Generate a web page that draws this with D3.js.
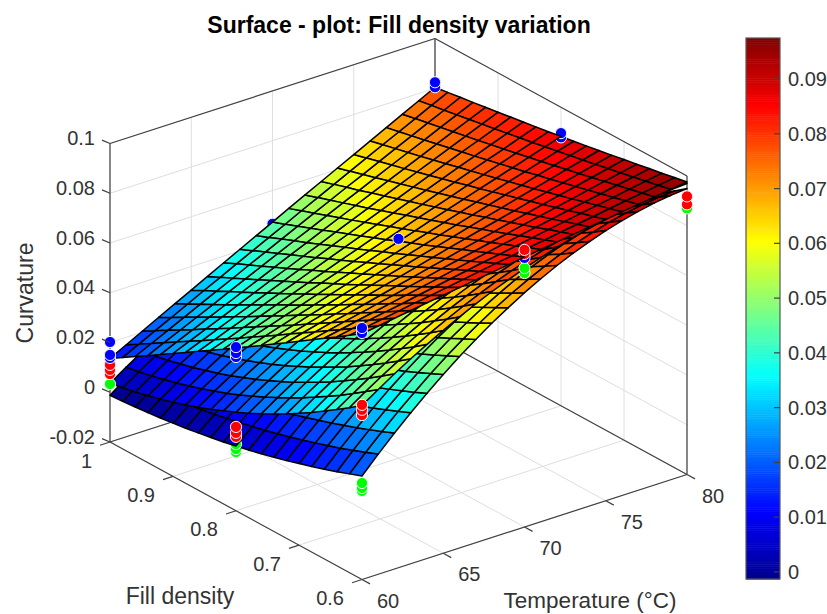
<!DOCTYPE html>
<html>
<head>
<meta charset="utf-8">
<script src="https://cdn.jsdelivr.net/npm/d3@7"></script>
<style>
body { margin: 0; background: #fff; }
text { font-family: "Liberation Sans", Arial, sans-serif; fill: #333; }
</style>
</head>
<body>
<svg id="chart" width="827" height="614"></svg>
<script>
const titleText = 'Surface - plot: Fill density variation';
const tempTicks = [60, 65, 70, 75, 80];
const fillTicks = [1, 0.9, 0.8, 0.7, 0.6];
const curvTicks = [-0.02, 0, 0.02, 0.04, 0.06, 0.08, 0.1];
const barTicks = [0, 0.01, 0.02, 0.03, 0.04, 0.05, 0.06, 0.07, 0.08, 0.09];

// surface rows run along fill density, columns along temperature. values are curvature * 10000
const tempGrid = [60, 61, 62, 63, 64, 65, 66, 67, 68, 69, 70, 71, 72, 73, 74, 75, 76, 77, 78, 79, 80];
const fillGrid = [1, 0.98, 0.96, 0.94, 0.92, 0.9, 0.88, 0.86, 0.84, 0.82, 0.8, 0.78, 0.76, 0.74, 0.72, 0.7, 0.68, 0.66, 0.64, 0.62, 0.6];

const topSurface = [
  [136,170,204,238,272,305,339,373,406,440,473,507,540,573,606,639,672,705,738,771,804],
  [167,200,233,265,298,331,363,396,428,460,492,525,557,589,621,653,685,716,748,780,811],
  [199,230,262,293,325,356,387,419,450,481,512,543,574,605,635,666,697,727,758,788,819],
  [230,261,291,321,351,382,412,442,472,502,531,561,591,620,650,680,709,738,768,797,826],
  [262,291,320,349,378,407,436,465,494,522,551,580,608,637,665,693,721,750,778,806,834],
  [294,322,350,377,405,433,461,488,516,543,571,598,625,653,680,707,734,761,788,815,842],
  [326,352,379,406,432,459,485,512,538,565,591,617,643,669,695,721,747,773,798,824,850],
  [358,383,409,434,460,485,510,536,561,586,611,636,661,686,710,735,760,784,809,833,858],
  [390,414,439,463,487,511,535,559,583,607,631,655,679,702,726,749,773,796,819,843,866],
  [422,445,469,492,515,538,561,583,606,629,651,674,697,719,741,764,786,808,830,852,874],
  [455,477,499,521,542,564,586,608,629,651,672,693,715,736,757,778,799,820,841,862,883],
  [487,508,529,550,570,591,611,632,652,672,693,713,733,753,773,793,813,832,852,872,891],
  [520,540,559,579,598,618,637,656,675,694,713,732,751,770,789,808,826,845,863,882,900],
  [553,572,590,608,626,645,663,681,699,717,734,752,770,788,805,823,840,857,875,892,909],
  [586,604,621,638,655,672,689,705,722,739,756,772,789,805,821,838,854,870,886,902,918],
  [620,636,652,667,683,699,715,730,746,761,777,792,807,823,838,853,868,883,898,913,928],
  [653,668,683,697,712,726,741,755,770,784,798,812,826,841,854,868,882,896,910,923,937],
  [687,700,714,727,741,754,767,780,794,807,820,833,846,858,871,884,897,909,922,934,947],
  [720,733,745,757,769,782,794,806,818,830,841,853,865,877,888,900,911,922,934,945,956],
  [754,765,776,787,799,809,820,831,842,853,863,874,884,895,905,915,926,936,946,956,966],
  [788,798,808,818,828,837,847,857,866,876,885,895,904,913,922,931,940,949,958,967,976]
];
const midSurface = [
  [36,80,122,162,199,235,268,300,329,356,381,404,425,444,460,475,487,498,506,512,516],
  [46,89,131,171,209,244,278,309,338,365,390,413,434,453,469,484,496,507,515,521,525],
  [56,100,142,182,219,255,288,320,349,376,401,424,445,463,480,494,507,517,525,531,535],
  [69,113,155,194,232,267,301,332,361,388,413,436,457,475,492,507,519,529,537,543,547],
  [83,127,168,208,246,281,314,346,375,402,427,450,470,489,506,520,532,543,551,557,561],
  [98,142,184,223,261,296,329,361,390,417,442,465,485,504,520,535,547,557,566,572,576],
  [115,159,200,240,277,313,346,377,406,433,458,481,502,520,537,551,564,574,582,588,592],
  [133,177,218,258,295,331,364,395,424,451,476,499,520,538,555,569,581,591,600,606,609],
  [152,196,238,277,315,350,383,415,444,471,495,518,539,557,574,588,600,611,619,625,628],
  [174,217,259,298,336,371,404,436,465,491,516,539,560,578,595,609,621,631,639,645,649],
  [196,240,281,321,358,394,427,458,487,514,539,561,582,600,617,631,643,653,661,667,671],
  [220,264,305,345,382,417,450,482,511,537,562,585,605,624,640,655,667,677,685,691,694],
  [245,289,330,370,407,443,476,507,536,563,587,610,630,649,665,680,692,702,710,716,719],
  [272,316,357,397,434,469,502,533,562,589,614,636,657,675,692,706,718,728,736,742,746],
  [300,344,385,425,462,497,530,561,590,617,642,664,685,703,720,734,746,756,764,770,773],
  [330,374,415,454,492,527,560,591,620,647,671,694,714,733,749,763,775,785,793,799,803],
  [361,405,446,485,523,558,591,622,651,677,702,725,745,763,780,794,806,816,824,829,833],
  [394,437,479,518,555,590,623,654,683,710,734,757,777,796,812,826,838,848,856,862,865],
  [428,471,513,552,589,624,657,688,717,744,768,791,811,829,846,860,872,882,889,895,899],
  [463,507,548,587,624,659,692,723,752,779,803,826,846,864,881,895,907,917,924,930,934],
  [500,543,585,624,661,696,729,760,789,815,840,862,883,901,917,931,943,953,961,966,970]
];
const lowSurface = [
  [-12,36,82,124,163,198,231,260,286,309,329,346,359,370,377,381,382,379,374,365,353],
  [-9,41,87,130,170,206,240,270,297,321,342,359,374,385,393,398,400,398,394,386,375],
  [-4,46,93,137,178,215,250,281,309,334,355,374,389,401,410,416,419,418,415,408,398],
  [1,52,100,145,186,225,260,292,321,347,370,389,405,418,428,435,439,439,436,430,421],
  [7,59,108,153,196,235,272,305,335,361,385,405,422,436,447,455,459,461,459,454,446],
  [14,67,116,163,207,247,284,318,349,376,401,422,440,455,467,476,481,483,482,478,471],
  [21,75,126,173,218,259,297,332,364,392,418,440,459,475,487,497,503,506,506,503,497],
  [30,84,136,185,230,272,311,347,380,409,435,459,478,495,509,519,527,531,531,529,524],
  [39,95,147,197,243,286,326,363,396,427,454,478,499,517,531,542,551,556,557,556,551],
  [49,106,159,210,257,301,342,379,414,445,473,498,520,539,554,566,575,581,584,584,580],
  [60,118,172,223,272,316,358,397,432,464,494,519,542,562,578,591,601,608,612,612,610],
  [72,130,186,238,287,333,376,415,451,485,515,541,565,585,603,617,628,636,640,642,640],
  [84,144,200,253,303,350,394,434,471,506,536,564,589,610,628,643,655,664,669,672,671],
  [98,158,216,270,321,368,413,454,492,527,559,588,613,636,655,671,683,693,700,703,703],
  [112,174,232,287,339,387,433,475,514,550,583,612,639,662,682,699,713,723,730,735,736],
  [128,190,249,305,357,407,453,497,537,573,607,638,665,689,710,728,743,754,762,767,769],
  [144,207,267,324,377,428,475,519,560,598,632,664,692,717,739,758,773,786,795,801,804],
  [160,224,285,343,398,449,497,542,584,623,658,691,720,746,769,788,805,818,828,835,839],
  [178,243,305,364,419,471,521,567,609,649,685,719,749,776,799,820,837,852,863,870,875],
  [197,263,325,385,441,495,545,592,635,676,713,747,778,806,831,852,871,886,898,907,912],
  [216,283,347,407,464,519,570,617,662,703,742,777,809,838,863,886,905,921,934,943,950]
];

// measured points as [temperature, fill density, curvature]
const bluePoints = [
  [60,1,0.0202],[60,1,0.015],[60,1,0.0138],
  [60,0.8,0.0458],[60,0.8,0.0434],[60,0.8,0.0418],
  [60,0.6,0.0811],[60,0.6,0.0791],
  [70,1,0.0466],[70,0.8,0.0682],[70,0.6,0.0882],
  [80,1,0.0824],[80,1,0.0804],[80,0.8,0.0896],[80,0.8,0.0879]
];
const redPoints = [
  [60,1,0.011],[60,1,0.009],[60,1,0.0073],
  [60,0.8,0.0137],[60,0.8,0.0113],[60,0.8,0.0097],
  [60,0.6,0.0502],[60,0.6,0.0482],[60,0.6,0.0461],
  [70,0.6,0.0914],[70,0.6,0.0898],
  [80,0.6,0.0918],[80,0.6,0.0886]
];
const greenPoints = [
  [60,1,0.0033],
  [60,0.8,0.0068],[60,0.8,0.0048],[60,0.8,0.0036],
  [60,0.6,0.0188],[60,0.6,0.0168],[60,0.6,0.0156],
  [70,0.6,0.0841],[70,0.6,0.0821],
  [80,0.6,0.087]
];

const jetStops = [0, 0.125, 0.375, 0.625, 0.875, 1];
const jetColors = ['#00008f', '#0000ff', '#00ffff', '#ffff00', '#ff0000', '#800000'];
const colorLimits = [-0.0013, 0.0975];
const numLevels = 256;

const svg = d3.select('#chart');
const axisColor = '#404040';
const gridColor = '#dedede';

// box corners on the page: left corner plus one vector per data axis
const origin = [110, 442];
const tempVec = [325, -105];
const fillVec = [252, 137.5];
const curvVec = [0, -298.5];

const tempScale = d3.scaleLinear().domain([60, 80]).range([0, 1]);
const fillScale = d3.scaleLinear().domain([1, 0.6]).range([0, 1]);
const curvScale = d3.scaleLinear().domain([-0.02, 0.1]).range([0, 1]);
const jet = d3.scaleLinear().domain(jetStops).range(jetColors).interpolate(d3.interpolateRgb);

function project(t, f, c) {
    const u = tempScale(t);
    const v = fillScale(f);
    const w = curvScale(c);
    return [
        origin[0] + u * tempVec[0] + v * fillVec[0] + w * curvVec[0],
        origin[1] + u * tempVec[1] + v * fillVec[1] + w * curvVec[1],
    ];
}
function levelColor(c) {
    const s = (c - colorLimits[0]) / (colorLimits[1] - colorLimits[0]);
    const level = Math.min(numLevels - 1, Math.max(0, Math.floor(s * numLevels)));
    return jet((level + 0.5) / numLevels);
}
// painter order: further from the viewer is a bigger number. height above a tilted plane
function depth(t, f, c) {
    return 136 + 650 * tempScale(t) + 600 * fillScale(f) - c * 10000;
}
function drawLine(layer, a, b, color, width) {
    const p = project(...a);
    const q = project(...b);
    layer.append('line')
        .attr('x1', p[0]).attr('y1', p[1])
        .attr('x2', q[0]).attr('y2', q[1])
        .attr('stroke', color)
        .attr('stroke-width', width);
}
function tickText(v) {
    return d3.format('~g')(v).replace('\u2212', '-');
}

const walls = svg.append('g');
const [zMin, zMax] = curvScale.domain();

// grid on floor and both back walls
tempTicks.forEach(t => {
    drawLine(walls, [t, 1, zMin], [t, 0.6, zMin], gridColor, 1);
    drawLine(walls, [t, 1, zMin], [t, 1, zMax], gridColor, 1);
});
fillTicks.forEach(f => {
    drawLine(walls, [60, f, zMin], [80, f, zMin], gridColor, 1);
    drawLine(walls, [80, f, zMin], [80, f, zMax], gridColor, 1);
});
curvTicks.forEach(c => {
    drawLine(walls, [60, 1, c], [80, 1, c], gridColor, 1);
    drawLine(walls, [80, 1, c], [80, 0.6, c], gridColor, 1);
});

// box edges
[
    [[60, 1, zMin], [60, 0.6, zMin]],
    [[60, 0.6, zMin], [80, 0.6, zMin]],
    [[60, 1, zMin], [80, 1, zMin]],
    [[80, 1, zMin], [80, 0.6, zMin]],
    [[60, 1, zMax], [80, 1, zMax]],
    [[80, 1, zMax], [80, 0.6, zMax]],
    [[60, 1, zMin], [60, 1, zMax]],
    [[80, 1, zMin], [80, 1, zMax]],
    [[80, 0.6, zMin], [80, 0.6, zMax]],
].forEach(e => drawLine(walls, e[0], e[1], axisColor, 1.2));

// surfaces and points go in one list so the points can sit behind or in front of a cell
const items = [];
[topSurface, midSurface, lowSurface].forEach(surface => {
    for (let j = 0; j < fillGrid.length - 1; j++) {
        for (let i = 0; i < tempGrid.length - 1; i++) {
            const corners = [[i, j], [i + 1, j], [i + 1, j + 1], [i, j + 1]]
                .map(([a, b]) => [tempGrid[a], fillGrid[b], surface[b][a] / 10000]);
            items.push({
                corners,
                fill: levelColor(corners[0][2]),
                depth: d3.mean(corners, d => depth(...d)),
            });
        }
    }
});
[[bluePoints, '#0000ff'], [redPoints, '#ff0000'], [greenPoints, '#00ff00']].forEach(([points, color]) => {
    points.forEach(d => items.push({ point: d, fill: color, depth: depth(...d) }));
});
items.sort((a, b) => b.depth - a.depth);

const polyLine = d3.line().curve(d3.curveLinearClosed);
const plot = svg.append('g');
items.forEach(d => {
    if (d.point) {
        const p = project(...d.point);
        plot.append('circle')
            .attr('cx', p[0]).attr('cy', p[1]).attr('r', 5.6)
            .attr('fill', d.fill)
            .attr('stroke', '#f4f4ff')
            .attr('stroke-width', 1);
    } else {
        plot.append('path')
            .attr('d', polyLine(d.corners.map(c => project(...c))))
            .attr('fill', d.fill)
            .attr('stroke', '#000')
            .attr('stroke-width', 1.5)
            .attr('stroke-linejoin', 'round');
    }
});

// axis ticks and labels
const fontSize = 20;
const labelSize = 23;
curvTicks.forEach(c => {
    const p = project(60, 1, c);
    svg.append('line').attr('x1', p[0]).attr('y1', p[1]).attr('x2', p[0] - 8).attr('y2', p[1] - 3.4)
        .attr('stroke', axisColor).attr('stroke-width', 1.2);
    svg.append('text').attr('x', p[0] - 15).attr('y', p[1] - 5.5)
        .attr('text-anchor', 'end').attr('dominant-baseline', 'central')
        .attr('font-size', fontSize).text(tickText(c));
});
fillTicks.forEach(f => {
    const p = project(60, f, zMin);
    svg.append('line').attr('x1', p[0]).attr('y1', p[1]).attr('x2', p[0] - 10).attr('y2', p[1] + 3.2)
        .attr('stroke', axisColor).attr('stroke-width', 1.2);
    svg.append('text').attr('x', p[0] - 18).attr('y', p[1] + 18.5)
        .attr('text-anchor', 'end').attr('dominant-baseline', 'central')
        .attr('font-size', fontSize).text(tickText(f));
});
tempTicks.forEach(t => {
    const p = project(t, 0.6, zMin);
    svg.append('line').attr('x1', p[0]).attr('y1', p[1]).attr('x2', p[0] + 8).attr('y2', p[1] + 4.4)
        .attr('stroke', axisColor).attr('stroke-width', 1.2);
    svg.append('text').attr('x', p[0] + 26).attr('y', p[1] + 21)
        .attr('text-anchor', 'middle').attr('dominant-baseline', 'central')
        .attr('font-size', fontSize).text(t);
});

svg.append('text').attr('x', 399).attr('y', 25)
    .attr('text-anchor', 'middle').attr('dominant-baseline', 'central')
    .attr('font-size', labelSize).attr('font-weight', 'bold').style('fill', '#000')
    .text(titleText);
svg.append('text').attr('transform', 'translate(25,293) rotate(-90)')
    .attr('text-anchor', 'middle').attr('dominant-baseline', 'central')
    .attr('font-size', labelSize).text('Curvature');
svg.append('text').attr('x', 180).attr('y', 596)
    .attr('text-anchor', 'middle').attr('dominant-baseline', 'central')
    .attr('font-size', labelSize).text('Fill density');
svg.append('text').attr('x', 590).attr('y', 600)
    .attr('text-anchor', 'middle').attr('dominant-baseline', 'central')
    .attr('font-size', 22.5).text('Temperature (°C)');

// colour bar
const barLeft = 746;
const barRight = 780;
const barY = d3.scaleLinear().domain(colorLimits).range([579, 38]);
const levels = d3.range(numLevels);
const levelValue = d3.scaleLinear().domain([0, numLevels]).range(colorLimits);
svg.append('g').selectAll('rect')
    .data(levels)
    .join('rect')
    .attr('x', barLeft)
    .attr('width', barRight - barLeft)
    .attr('y', d => barY(levelValue(d + 1)))
    .attr('height', d => barY(levelValue(d)) - barY(levelValue(d + 1)) + 0.5)
    .attr('fill', d => jet((d + 0.5) / numLevels));
svg.append('rect')
    .attr('x', barLeft).attr('y', barY.range()[1])
    .attr('width', barRight - barLeft).attr('height', barY.range()[0] - barY.range()[1])
    .attr('fill', 'none').attr('stroke', '#555').attr('stroke-width', 1.2);
barTicks.forEach(b => {
    svg.append('line').attr('x1', barRight - 6).attr('x2', barRight)
        .attr('y1', barY(b)).attr('y2', barY(b))
        .attr('stroke', axisColor).attr('stroke-width', 1.2);
    svg.append('text').attr('x', 788).attr('y', barY(b))
        .attr('dominant-baseline', 'central')
        .attr('font-size', fontSize).text(tickText(b));
});
</script>
</body>
</html>
